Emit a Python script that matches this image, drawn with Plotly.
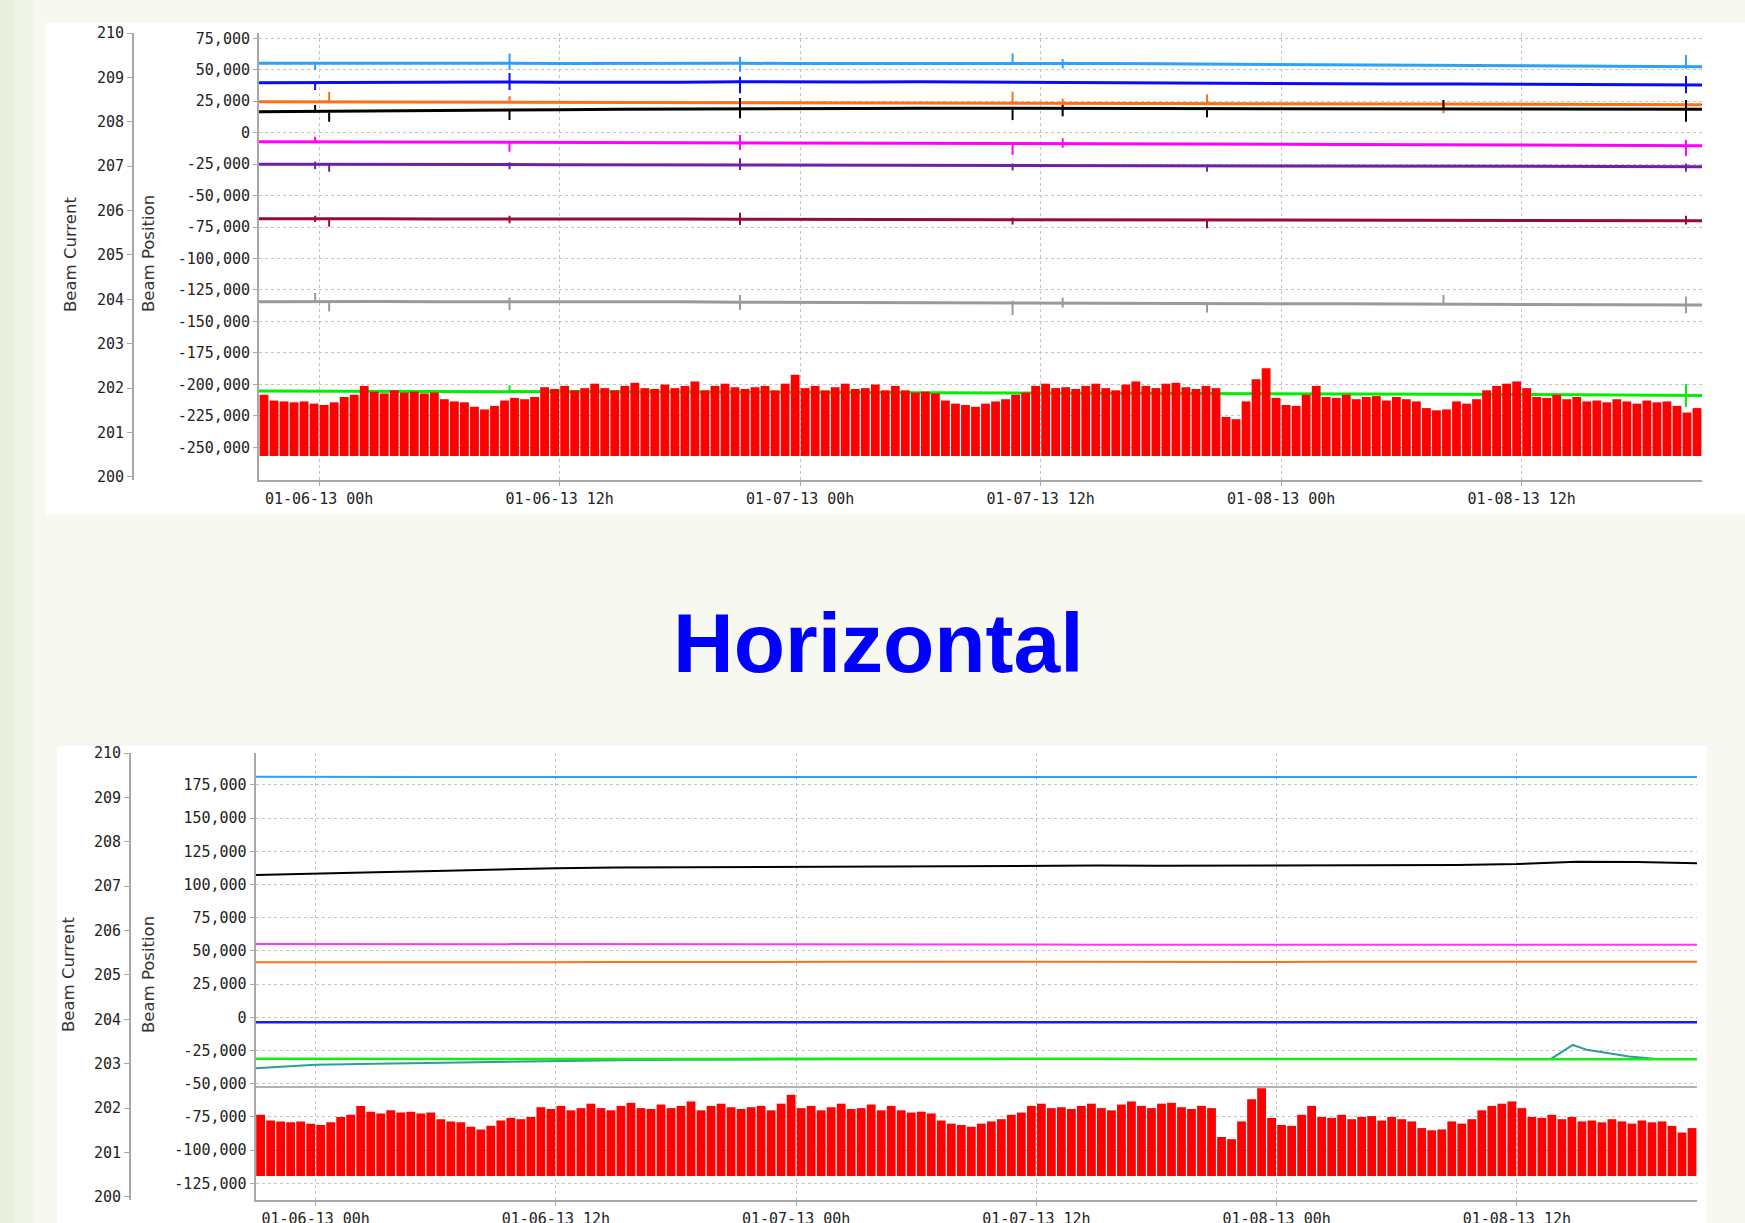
import pandas as pd
import plotly.graph_objects as go

W, H = 1745, 1223
T0 = pd.Timestamp("2013-01-05 21:00")

# ---------------- data ----------------
base_hours = [0, 3, 6, 9, 12, 15, 18, 21, 24, 27, 30, 33, 36, 39, 42, 45, 48, 51, 54, 57, 60, 63, 66, 69, 72]

# beam current (mA), 30-min bins: top of each refill cycle, common floor
red_floor = 200.47
red_top = [201.85, 201.72, 201.70, 201.68, 201.70, 201.65, 201.62, 201.68,
           201.80, 201.85, 202.05, 201.92, 201.88, 201.95, 201.90, 201.92, 201.88, 201.90,
           201.75, 201.70, 201.68, 201.58, 201.52, 201.60, 201.72, 201.78, 201.75, 201.80,
           202.02, 201.98, 202.05, 201.95, 202.00, 202.10, 202.00, 201.95, 202.05, 202.12,
           202.00, 201.98, 202.08, 202.00, 202.05, 202.15, 201.95, 202.05, 202.10, 202.02,
           201.98, 202.02, 202.05, 201.95, 202.10, 202.30,
           202.00, 202.05, 201.95, 202.02, 202.10, 201.98, 202.00, 202.08, 201.95, 202.05,
           201.95, 201.90, 201.92, 201.88, 201.72, 201.65, 201.62, 201.58,
           201.65, 201.70, 201.75, 201.85, 201.90,
           202.05, 202.10, 202.00, 202.02, 201.98, 202.05, 202.10, 202.00, 201.95, 202.08,
           202.15, 202.05, 202.00, 202.10, 202.12, 202.02, 201.98, 202.05, 202.00,
           201.35, 201.30, 201.70, 202.20, 202.45, 201.78, 201.62, 201.60, 201.85, 202.05,
           201.80, 201.78, 201.85, 201.75, 201.80, 201.82, 201.72, 201.80, 201.75, 201.70,
           201.55, 201.50, 201.52, 201.70, 201.65, 201.75,
           201.95, 202.05, 202.10, 202.15, 202.00, 201.80, 201.78, 201.85, 201.75, 201.80,
           201.70, 201.72, 201.68, 201.75, 201.70, 201.65, 201.72, 201.68, 201.70,
           201.60, 201.45, 201.55]
red_hours = [0.25 + 0.5 * k for k in range(len(red_top))]

# vertical-panel beam positions
top_ltblue = [55100, 55200, 55000, 55200, 55100, 55000, 55200, 55100, 55100, 55000, 55100, 55200, 55000, 55100,
              55000, 54700, 54500, 54300, 54000, 53800, 53500, 53300, 53000, 52700, 52400]
top_blue = [39700, 39900, 40200, 40000, 40300, 40100, 39800, 40000, 40400, 40200, 40300, 40500, 40200, 40100,
            39600, 39400, 39300, 39000, 38900, 38600, 38700, 38400, 38300, 38100, 37900]
top_orange = [24600, 24500, 24700, 24400, 24500, 24300, 24400, 24200, 24300, 24100, 24000, 23900, 23800, 23600,
              23500, 23300, 23200, 23000, 22900, 22700, 22600, 22500, 22400, 22300, 22200]
top_black = [16700, 16900, 17100, 17500, 17800, 18200, 18600, 18900, 19200, 19400, 19300, 19500, 19400, 19300,
             19200, 19100, 19000, 18900, 18800, 18700, 18800, 18600, 18700, 18600, 18600]
top_magenta = [-7200, -7300, -7100, -7500, -7400, -7600, -7800, -7700, -8000, -8100, -8200, -8300, -8400, -8500,
               -8600, -8800, -9000, -9200, -9400, -9500, -9700, -9900, -10000, -10200, -10300]
top_purple = [-25100, -25000, -25200, -25300, -25200, -25400, -25500, -25400, -25600, -25700, -25600, -25700,
              -25800, -25900, -26000, -26100, -26200, -26300, -26400, -26500, -26600, -26700, -26800, -26900, -27000]
top_maroon = [-68500, -68300, -68400, -68600, -68500, -68700, -68800, -68600, -68800, -68900, -68700, -68900,
              -69000, -69100, -69000, -69200, -69300, -69400, -69300, -69500, -69600, -69700, -69800, -69900, -70000]
top_gray = [-134300, -134000, -134200, -134400, -134300, -134500, -134600, -134400, -134700, -134800, -134600,
            -134900, -135000, -135200, -135300, -135500, -135700, -135800, -136000, -136200, -136400, -136500,
            -136700, -136800, -137000]
top_green = [-205300, -205500, -205600, -205800, -205700, -205900, -206000, -206100, -206200, -206300, -206400,
             -206500, -206600, -206700, -206800, -207000, -207100, -207300, -207500, -207700, -207900, -208100,
             -208300, -208600, -208900]

# transient spikes (hours from start) with min / max readings per signal
spike_hours = [2.8, 3.5, 12.5, 24.0, 37.6, 40.1, 47.3, 59.1, 71.2]
spk_ltblue_lo = [49800, None, 49800, 48500, 54500, 51000, None, None, 50800]
spk_ltblue_hi = [55500, None, 63000, 60400, 63000, 58500, None, None, 61700]
spk_blue_lo = [33900, None, 33900, 31300, None, None, None, None, 31300]
spk_blue_hi = [40500, None, 47400, 44500, None, None, None, None, 45000]
spk_orange_lo = [None, 24000, 24000, 22000, 23500, 21000, 23500, 15400, None]
spk_orange_hi = [None, 32500, 29000, 27500, 32600, 27000, 30500, 23000, None]
spk_black_lo = [16000, 8700, 10000, 11400, 10000, 13000, 12200, 18500, 8700]
spk_black_hi = [22000, 17000, 18000, 27500, 20000, 22000, 19500, 26000, 26000]
spk_magenta_lo = [-7500, None, -15100, -13800, -17700, -12000, None, None, -18500]
spk_magenta_hi = [-3200, None, -7000, -1850, -7500, -4500, None, None, -5800]
spk_purple_lo = [-29000, -31000, -29000, -29700, -30000, None, -31000, None, -31000]
spk_purple_hi = [-23000, -25000, -23500, -20400, -24500, None, -25500, None, -24500]
spk_maroon_lo = [-71000, -74700, -72000, -73400, -73000, None, -76000, None, -73000]
spk_maroon_hi = [-66000, -68500, -66000, -63600, -67500, None, -68800, None, -66000]
spk_gray_lo = [-135000, -142000, -141000, -140900, -145000, -139000, -143000, -135500, -143500]
spk_gray_hi = [-127400, -134000, -131000, -129000, -133500, -131000, -135000, -129000, -130350]
spk_green_lo = [None, None, -207000, None, None, None, None, None, -218000]
spk_green_hi = [None, None, -200600, None, None, None, None, None, -199700]

# horizontal-panel beam positions
bot_ltblue = [181200, 181000, 181300, 181100, 181000, 181200, 181100, 181000, 181200, 180900, 181100, 181000,
              181200, 181000, 181100, 181000, 181200, 181100, 181000, 181100, 181200, 181000, 181100, 181000, 181000]
bot_black = [107200, 108000, 109200, 110200, 111300, 112300, 112800, 113000, 113300, 113500, 113700, 114000,
             114300, 114500, 114300, 114200, 114300, 114200, 114400, 114600, 114800, 115500, 117200, 117000, 116000]
bot_magenta = [55300, 55300, 55200, 55300, 55200, 55000, 55000, 54900, 55000, 54900, 54800, 54900, 54800, 54800,
               54700, 54800, 54700, 54700, 54600, 54700, 54600, 54600, 54700, 54800, 54700]
bot_orange = [41500, 41400, 41600, 41500, 41600, 41500, 41700, 41600, 41800, 41700, 41800, 41900, 41800, 41700,
              41800, 41900, 41800, 41700, 41800, 41800, 41900, 41800, 41700, 41800, 41800]
bot_blue = [-3700, -3700, -3600, -3700, -3700, -3800, -3700, -3700, -3600, -3700, -3700, -3700, -3800, -3700,
            -3700, -3600, -3700, -3700, -3700, -3800, -3700, -3700, -3700, -3700, -3700]
bot_green = [-31200, -31300, -31200, -31400, -31300, -31200, -31300, -31400, -31300, -31200, -31300, -31400,
             -31300, -31300, -31200, -31400, -31300, -31300, -31400, -31300, -31400, -31500, -31400, -31500, -31500]
bot_gray = [-52500, -52400, -52600, -52500, -52400, -52500, -52600, -52500, -52400, -52500, -52600, -52500,
            -52400, -52500, -52500, -52600, -52400, -52500, -52600, -52500, -52400, -52500, -52600, -52500, -52500]
teal_hours = [0, 3, 6, 9, 12, 15, 18, 21, 24, 30, 36, 42, 48, 54, 60, 64.7, 65.8, 66.5, 67.6, 68.6, 70, 72]
teal_vals = [-38300, -35800, -35000, -34300, -33300, -32800, -32300, -32000, -31700, -31500, -31500, -31400,
             -31400, -31300, -31300, -31300, -20800, -24500, -27000, -29500, -31300, -31400]

top_pos_ticks = [75000, 50000, 25000, 0, -25000, -50000, -75000, -100000, -125000, -150000, -175000,
                 -200000, -225000, -250000]
bot_pos_ticks = [175000, 150000, 125000, 100000, 75000, 50000, 25000, 0, -25000, -50000, -75000, -100000,
                 -125000]
cur_ticks = [200, 201, 202, 203, 204, 205, 206, 207, 208, 209, 210]


def times(hs):
    return [T0 + pd.Timedelta(hours=h) for h in hs]


fig = go.Figure()

# ---------- top (vertical) panel ----------
top_series = [
    (top_gray, spk_gray_lo, spk_gray_hi, "#9a9a9a"),
    (top_maroon, spk_maroon_lo, spk_maroon_hi, "#990a3c"),
    (top_purple, spk_purple_lo, spk_purple_hi, "#7020a8"),
    (top_magenta, spk_magenta_lo, spk_magenta_hi, "#ff00ff"),
    (top_green, spk_green_lo, spk_green_hi, "#00f000"),
    (top_orange, spk_orange_lo, spk_orange_hi, "#ff7014"),
    (top_black, spk_black_lo, spk_black_hi, "#000000"),
    (top_blue, spk_blue_lo, spk_blue_hi, "#0a0aff"),
    (top_ltblue, spk_ltblue_lo, spk_ltblue_hi, "#2ea0fa"),
]
for vals, lo, hi, col in top_series:
    fig.add_trace(go.Scatter(x=times(base_hours), y=vals, mode="lines",
                             line=dict(color=col, width=3), xaxis="x", yaxis="y", hoverinfo="skip"))
    sx, sy = [], []
    for h, a, b in zip(spike_hours, lo, hi):
        if a is None:
            continue
        t = T0 + pd.Timedelta(hours=h)
        sx += [t, t, None]
        sy += [a, b, None]
    fig.add_trace(go.Scatter(x=sx, y=sy, mode="lines", line=dict(color=col, width=2),
                             xaxis="x", yaxis="y", hoverinfo="skip"))

bar_w = 0.5 * 3600 * 1000 * 0.88
fig.add_trace(go.Bar(x=times(red_hours), y=[v - red_floor for v in red_top], base=red_floor,
                     width=bar_w, marker=dict(color="#ff0000", line=dict(width=0)),
                     xaxis="x", yaxis="y2", hoverinfo="skip"))

# ---------- bottom (horizontal) panel ----------
fig.add_trace(go.Scatter(x=times(teal_hours), y=teal_vals, mode="lines",
                         line=dict(color="#339a9a", width=2), xaxis="x2", yaxis="y3", hoverinfo="skip"))
bot_series = [
    (bot_gray, "#9a9a9a", 1.5),
    (bot_green, "#10f010", 2.5),
    (bot_blue, "#1a1aff", 2.5),
    (bot_orange, "#ff7014", 2),
    (bot_magenta, "#ff33ff", 2),
    (bot_black, "#000000", 2),
    (bot_ltblue, "#2ea0fa", 2),
]
for vals, col, wd in bot_series:
    fig.add_trace(go.Scatter(x=times(base_hours), y=vals, mode="lines",
                             line=dict(color=col, width=wd), xaxis="x2", yaxis="y3", hoverinfo="skip"))
fig.add_trace(go.Bar(x=times(red_hours), y=[v - red_floor for v in red_top], base=red_floor,
                     width=bar_w, marker=dict(color="#ff0000", line=dict(width=0)),
                     xaxis="x2", yaxis="y4", hoverinfo="skip"))

# ---------- layout ----------
mono = "DejaVu Sans Mono, Liberation Mono, monospace"
tickfont = dict(family=mono, size=15, color="#222222")
axcol = "#a8a8a8"
gridcol = "#c4c4c4"
xr = [T0, T0 + pd.Timedelta(hours=72)]


def xax(l, r, anchor):
    return dict(domain=[l / W, r / W], anchor=anchor, type="date", range=xr, automargin=False,
                tick0="2013-01-06 00:00", dtick=12 * 3600 * 1000, tickformat="%m-%d-%y %Hh",
                showgrid=True, gridcolor=gridcol, griddash="dot", gridwidth=1,
                showline=True, linecolor=axcol, linewidth=2, ticks="outside", ticklen=4,
                tickcolor=axcol, tickfont=tickfont, zeroline=False, fixedrange=True)


def posax(top, bot, rng, ticks, anchor):
    return dict(domain=[1 - bot / H, 1 - top / H], anchor=anchor, range=rng, automargin=False,
                tickvals=ticks, ticktext=[f"{v:,}" for v in ticks],
                showgrid=True, gridcolor=gridcol, griddash="dot", gridwidth=1,
                showline=True, linecolor=axcol, linewidth=2, ticks="outside", ticklen=4,
                tickcolor=axcol, tickfont=tickfont, zeroline=False, fixedrange=True)


def curax(overlay, xpos):
    return dict(overlaying=overlay, anchor="free", position=xpos / W, side="left", automargin=False,
                range=[199.93, 210.0], tickvals=cur_ticks, ticktext=[str(v) for v in cur_ticks],
                showgrid=False, showline=True, linecolor=axcol, linewidth=2, ticks="outside",
                ticklen=5, tickcolor=axcol, tickfont=tickfont, zeroline=False, fixedrange=True)


shapes = [
    dict(type="rect", xref="paper", yref="paper", x0=0, x1=1, y0=0, y1=1,
         fillcolor="#f7f9f0", line=dict(width=0), layer="below"),
    dict(type="rect", xref="paper", yref="paper", x0=0, x1=14 / W, y0=0, y1=1,
         fillcolor="#e7efdd", line=dict(width=0), layer="below"),
    dict(type="rect", xref="paper", yref="paper", x0=14 / W, x1=34 / W, y0=0, y1=1,
         fillcolor="#eef4e7", line=dict(width=0), layer="below"),
    dict(type="rect", xref="paper", yref="paper", x0=46 / W, x1=1, y0=1 - 515 / H, y1=1 - 23 / H,
         fillcolor="#ffffff", line=dict(width=0), layer="below"),
    dict(type="rect", xref="paper", yref="paper", x0=57 / W, x1=1707 / W, y0=-0.01, y1=1 - 746 / H,
         fillcolor="#ffffff", line=dict(width=0), layer="below"),
]

titlefont = dict(family="DejaVu Sans, Verdana, sans-serif", size=16.5, color="#333333")
annotations = [
    dict(text="Beam Current", x=70 / W, y=1 - 255 / H, xref="paper", yref="paper", textangle=-90,
         showarrow=False, font=titlefont, xanchor="center", yanchor="middle"),
    dict(text="Beam Position", x=149 / W, y=1 - 254 / H, xref="paper", yref="paper", textangle=-90,
         showarrow=False, font=titlefont, xanchor="center", yanchor="middle"),
    dict(text="Beam Current", x=68 / W, y=1 - 975 / H, xref="paper", yref="paper", textangle=-90,
         showarrow=False, font=titlefont, xanchor="center", yanchor="middle"),
    dict(text="Beam Position", x=148 / W, y=1 - 975 / H, xref="paper", yref="paper", textangle=-90,
         showarrow=False, font=titlefont, xanchor="center", yanchor="middle"),
    dict(text="<b>Horizontal</b>", x=878 / W, y=1 - 643 / H, xref="paper", yref="paper",
         showarrow=False, xanchor="center", yanchor="middle",
         font=dict(family="Liberation Sans, Arial, sans-serif", size=84, color="#0000ff")),
]

fig.update_layout(
    width=W, height=H, margin=dict(l=0, r=0, t=0, b=0, pad=0, autoexpand=False),
    paper_bgcolor="#f7f9f0", plot_bgcolor="rgba(0,0,0,0)",
    showlegend=False, hovermode=False, barmode="overlay",
    xaxis=xax(259, 1702, "y"),
    yaxis=posax(33, 480, [-276000, 79200], top_pos_ticks, "x"),
    yaxis2=curax("y", 133),
    xaxis2=xax(255.6, 1697, "y3"),
    yaxis3=posax(753, 1200, [-137600, 199100], bot_pos_ticks, "x2"),
    yaxis4=curax("y3", 130),
    shapes=shapes, annotations=annotations,
)

fig.write_html("out.html", config={"displayModeBar": False},
               post_script="document.body.style.margin='0px';document.body.style.overflow='hidden';")
